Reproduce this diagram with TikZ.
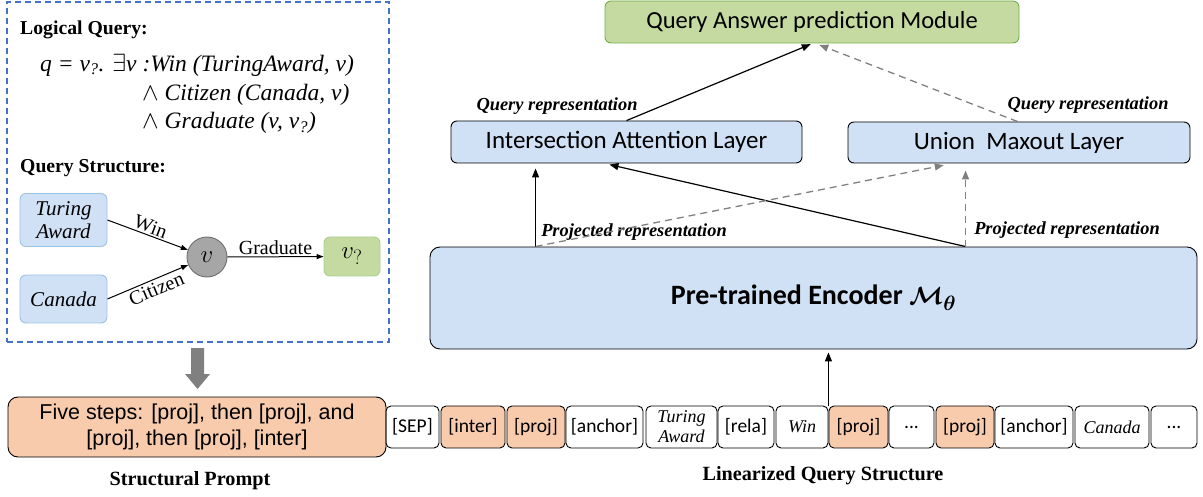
\documentclass[tikz,border=0pt]{standalone}
\usepackage{amsmath,bm}
\usepackage{fontspec}
\setmainfont{Liberation Serif}
\newfontfamily\calfont{Carlito}
\newfontfamily\arialfont{Liberation Sans}
\usetikzlibrary{arrows.meta,calc}
\definecolor{lblue}{RGB}{208,224,245}
\definecolor{bborder}{RGB}{157,195,230}
\definecolor{dblue}{RGB}{68,114,196}
\definecolor{lgreen}{RGB}{197,218,160}
\definecolor{gborder}{RGB}{112,173,71}
\definecolor{lgborder}{RGB}{169,208,142}
\definecolor{orng}{RGB}{248,203,173}
\definecolor{garr}{RGB}{128,128,128}
\definecolor{circfill}{RGB}{166,166,166}
\definecolor{circline}{RGB}{110,110,110}
\begin{document}
\begin{tikzpicture}[x=1pt,y=-1pt,
  tok/.style={draw=black, line width=0.9pt, rounded corners=5pt, minimum height=42pt, inner sep=0pt, font=\calfont\fontsize{19.5}{22}\selectfont},
  otok/.style={tok, fill=orng},
  itok/.style={tok, font=\itshape\fontsize{18}{20}\selectfont, align=center},
  layer/.style={draw=black, line width=0.9pt, fill=lblue, rounded corners=6pt, inner sep=0pt, font=\calfont\fontsize{25}{28}\selectfont},
  qb/.style={draw=bborder, line width=0.9pt, fill=lblue, rounded corners=6pt, inner sep=0pt, font=\itshape\fontsize{21}{24}\selectfont, align=center},
  rlabel/.style={font=\bfseries\itshape\fontsize{18.4}{20}\selectfont, inner sep=0pt},
  head/.style={font=\bfseries\fontsize{19.7}{22}\selectfont, inner sep=0pt, anchor=west},
  fline/.style={inner sep=0pt, anchor=west, font=\itshape\fontsize{23.5}{26}\selectfont},
  arr/.style={line width=1.2pt, -{Triangle[length=9pt,width=7pt]}},
  darr/.style={line width=1.3pt, draw=garr, dash pattern=on 7pt off 5pt, -{Triangle[length=9pt,width=7pt,fill=garr]}},
  sarr/.style={line width=1pt, -{Triangle[length=7pt,width=5pt]}},
  elabel/.style={font=\fontsize{20}{22}\selectfont, inner sep=1.5pt},
  caption/.style={font=\bfseries\fontsize{20.2}{22}\selectfont, inner sep=0pt}
]
\useasboundingbox (0,0) rectangle (1203,497);

% ---------- left dashed panel ----------
\node[draw=dblue, line width=1.3pt, dash pattern=on 6pt off 4pt, minimum width=382pt, minimum height=340pt, inner sep=0pt] (panel) at (198,172) {};
\node[head] (lq) at (20,30) {Logical Query:};
\node[fline] (f1) at (40,65) {q = v\textsubscript{?}. \upshape$\exists$\itshape v :Win (TuringAward, v)};
\node[fline] (f2) at (142,95) {\upshape$\wedge$\itshape{} Citizen (Canada, v)};
\node[fline] (f3) at (142,123) {\upshape$\wedge$\itshape{} Graduate (v, v\textsubscript{?})};
\node[head] (qs) at (20,168) {Query Structure:};

\node[qb, minimum width=87pt, minimum height=53pt] (turing) at (63.5,220) {Turing\\[-1pt]Award};
\node[qb, minimum width=87pt, minimum height=48pt] (canada) at (63.5,299) {Canada};
\node[circle, draw=circline, line width=0.9pt, fill=circfill, minimum size=40pt, inner sep=0pt, font=\fontsize{30}{30}\selectfont] (v) at (207,257) {$v$};
\node[draw=lgborder, line width=0.9pt, fill=lgreen, rounded corners=6pt, minimum width=56pt, minimum height=39pt, inner sep=0pt, font=\fontsize{28}{28}\selectfont] (vq) at (352,256.5) {$v_?$};
\draw[sarr] (turing.east) -- node[elabel, sloped, above, pos=0.5] {Win} (v);
\draw[sarr] (canada.east) -- node[elabel, sloped, below, pos=0.56, inner sep=2.5pt] {Citizen} (v);
\draw[sarr] (v) -- node[elabel, above] {Graduate} (vq);

% block arrow
\fill[garr] (191,348) -- (204,348) -- (204,374) -- (210,374) -- (197.5,389) -- (185,374) -- (191,374) -- cycle;

% ---------- structural prompt ----------
\node[draw=black, line width=0.9pt, fill=orng, rounded corners=10pt, minimum width=378pt, minimum height=60pt, inner sep=0pt, align=center, font=\arialfont\fontsize{21.5}{26}\selectfont] (prompt) at (197,427) {Five steps: [proj], then [proj], and\\{}[proj], then [proj], [inter]};
\node[caption] (sp) at (190,481) {Structural Prompt};

% ---------- token row ----------
\node[tok, minimum width=53pt] (t1) at (412.5,427) {[SEP]};
\node[otok, minimum width=64pt] (t2) at (473,427) {[inter]};
\node[otok, minimum width=58pt] (t3) at (536,427) {[proj]};
\node[tok, minimum width=77pt] (t4) at (604.5,427) {[anchor]};
\node[itok, minimum width=71pt] (t5) at (681.5,427) {Turing\\Award};
\node[tok, minimum width=56pt] (t6) at (746,427) {[rela]};
\node[itok, minimum width=52pt] (t7) at (802,427) {Win};
\node[otok, minimum width=59pt] (t8) at (858.5,427) {[proj]};
\node[tok, minimum width=45pt] (t9) at (911.5,427) {...};
\node[otok, minimum width=58pt] (t10) at (965,427) {[proj]};
\node[tok, minimum width=78pt] (t11) at (1034,427) {[anchor]};
\node[itok, minimum width=74pt] (t12) at (1112,427) {Canada};
\node[tok, minimum width=46pt] (t13) at (1174,427) {...};
\node[caption] (lqs) at (823,476) {Linearized Query Structure};

% ---------- right architecture ----------
\node[draw=gborder, line width=0.9pt, fill=lgreen, rounded corners=6pt, minimum width=414pt, minimum height=42pt, inner sep=0pt, font=\calfont\fontsize{24.5}{27}\selectfont] (qa) at (812,22) {Query Answer prediction Module};
\node[layer, minimum width=351pt, minimum height=42pt] (inter) at (626.5,142) {Intersection Attention Layer};
\node[layer, minimum width=342pt, minimum height=41pt] (union) at (1019,142.5) {Union\ \ Maxout Layer};
\node[layer, minimum width=767pt, minimum height=102pt, rounded corners=10pt, font=\calfont\bfseries\fontsize{28}{30}\selectfont] (enc) at (813.5,298) {Pre-trained Encoder $\boldsymbol{\mathcal{M}}_{\boldsymbol{\theta}}$};

\node[rlabel] (qr1) at (557,106) {Query representation};
\node[rlabel] (qr2) at (1088,105) {Query representation};
\node[rlabel] (pr1) at (634,232) {Projected representation};
\node[rlabel] (pr2) at (1067,230) {Projected representation};

\coordinate (eA) at ([xshift=106pt]enc.north west);
\coordinate (eB) at ([xshift=536pt]enc.north west);

\draw[arr, shorten >=5pt] (eA) -- (eA |- inter.south);
\draw[arr, shorten >=5pt] (eB) -- ([xshift=154pt]inter.south west);
\draw[darr, shorten >=9pt] (eA) -- ([xshift=105pt]union.south west);
\draw[darr, shorten >=7pt] (eB) -- (eB |- union.south);
\draw[arr, shorten >=2pt] ([xshift=176pt]inter.north west) -- ([xshift=208pt]qa.south west);
\draw[darr, shorten >=4pt] ([xshift=170pt]union.north west) -- ([xshift=211pt]qa.south west);
\draw[arr, shorten >=3pt] (t7.north east) -- (t7.north east |- enc.south);
\end{tikzpicture}
\end{document}
